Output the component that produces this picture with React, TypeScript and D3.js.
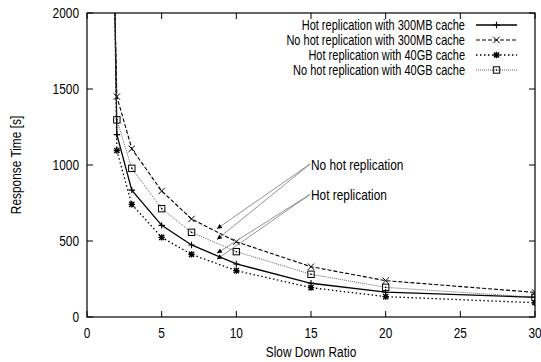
import React from "react";
import * as d3 from "d3";

const slowDown = [1, 2, 3, 5, 7, 10, 15, 20, 30];
const hot300MB = [7500, 1200, 835, 603, 474, 349, 222, 163, 130];
const noHot300MB = [5800, 1450, 1107, 829, 645, 495, 331, 239, 162];
const hot40GB = [8200, 1095, 741, 524, 412, 305, 193, 134, 94];
const noHot40GB = [6800, 1297, 978, 713, 557, 430, 281, 195, 130];
const seriesNames = [
  "Hot replication with 300MB cache",
  "No hot replication with 300MB cache",
  "Hot replication with 40GB cache",
  "No hot replication with 40GB cache",
];
const xTicks = [0, 5, 10, 15, 20, 25, 30];
const yTicks = [0, 500, 1000, 1500, 2000];
const annotations = [
  { label: "No hot replication", at: [15, 1000], targets: [[8.7, 580], [8.7, 510]] },
  { label: "Hot replication", at: [15, 800], targets: [[8.7, 420], [8.7, 380]] },
];

const W = 541, H = 362;
const font = "'Liberation Sans', Arial, sans-serif";
const fs = 14.5;
const SX = 0.82;

function T({ x, y, anchor = "start", rotate = 0, sx = SX, children }: { x: number; y: number; anchor?: string; rotate?: number; sx?: number; children: React.ReactNode }) {
  return (
    <text transform={`translate(${x},${y}) rotate(${rotate}) scale(${sx},1)`} textAnchor={anchor as any}>
      {children}
    </text>
  );
}

export default function App() {
  const x = d3.scaleLinear().domain([0, 30]).range([87, 535]);
  const y = d3.scaleLinear().domain([0, 2000]).range([317, 13]);
  const series = [hot300MB, noHot300MB, hot40GB, noHot40GB];
  const styles = [
    { dash: "none", color: "#000", width: 1.3, marker: "plus" },
    { dash: "4,2", color: "#000", width: 1.1, marker: "cross" },
    { dash: "1.5,2.5", color: "#000", width: 1.3, marker: "star" },
    { dash: "1,1", color: "#555", width: 0.9, marker: "box" },
  ];
  const line = d3.line<[number, number]>().x(d => x(d[0])).y(d => y(d[1]));

  const marker = (kind: string, cx: number, cy: number, key: string) => {
    const s = 3.2;
    if (kind === "plus")
      return <path key={key} d={`M${cx - s},${cy}H${cx + s}M${cx},${cy - s}V${cy + s}`} stroke="#000" strokeWidth={1.1} />;
    if (kind === "cross")
      return <path key={key} d={`M${cx - s},${cy - s}L${cx + s},${cy + s}M${cx - s},${cy + s}L${cx + s},${cy - s}`} stroke="#000" strokeWidth={1} />;
    if (kind === "star")
      return <path key={key} d={`M${cx - s},${cy}H${cx + s}M${cx},${cy - s}V${cy + s}M${cx - s * 0.8},${cy - s * 0.8}L${cx + s * 0.8},${cy + s * 0.8}M${cx - s * 0.8},${cy + s * 0.8}L${cx + s * 0.8},${cy - s * 0.8}`} stroke="#000" strokeWidth={1.4} />;
    return (
      <g key={key}>
        <rect x={cx - s} y={cy - s} width={2 * s} height={2 * s} fill="none" stroke="#000" strokeWidth={1} />
        <rect x={cx - 0.7} y={cy - 0.7} width={1.4} height={1.4} fill="#000" />
      </g>
    );
  };

  const legendY = (i: number) => 25 + i * 15;

  return (
    <svg width={W} height={H} style={{ position: "absolute", left: 0, top: 0 }} fontFamily={font} fontSize={fs}>
      <defs>
        <clipPath id="plot">
          <rect x={87} y={13} width={448} height={304} />
        </clipPath>
        <marker id="arrow" viewBox="0 0 10 10" refX={10} refY={5} markerWidth={8} markerHeight={5} orient="auto" markerUnits="userSpaceOnUse">
          <path d="M0,0L10,5L0,10z" fill="#000" />
        </marker>
      </defs>
      <rect width={W} height={H} fill="#fff" />
      {xTicks.map(t => (
        <g key={"xt" + t}>
          <line x1={x(t)} x2={x(t)} y1={317} y2={311} stroke="#000" />
          <line x1={x(t)} x2={x(t)} y1={13} y2={19} stroke="#000" />
          <T x={x(t)} y={338} anchor="middle">{t}</T>
        </g>
      ))}
      {yTicks.map(t => (
        <g key={"yt" + t}>
          <line x1={87} x2={93} y1={y(t)} y2={y(t)} stroke="#000" />
          <line x1={535} x2={529} y1={y(t)} y2={y(t)} stroke="#000" />
          <T x={79} y={y(t) + 5} anchor="end">{t}</T>
        </g>
      ))}
      <g clipPath="url(#plot)">
        {series.map((vals, i) => {
          const pts = slowDown.map((s, j) => [s, vals[j]] as [number, number]);
          return (
            <g key={"s" + i}>
              <path d={line(pts) || ""} fill="none" stroke={styles[i].color} strokeWidth={styles[i].width} strokeDasharray={styles[i].dash} />
              {pts.filter(p => p[1] <= 2000 && p[0] >= 2).map((p, j) => marker(styles[i].marker, x(p[0]), y(p[1]), `m${i}-${j}`))}
            </g>
          );
        })}
      </g>
      {annotations.map((a, i) => (
        <g key={"a" + i}>
          {a.targets.map((t, j) => (
            <line key={j} x1={x(a.at[0]) - 1} y1={y(a.at[1]) - 1} x2={x(t[0])} y2={y(t[1])} stroke="#777" strokeWidth={0.8} markerEnd="url(#arrow)" />
          ))}
          <T x={x(a.at[0])} y={y(a.at[1]) + 5}>{a.label}</T>
        </g>
      ))}
      {seriesNames.map((n, i) => (
        <g key={"l" + i}>
          <T x={465} y={legendY(i) + 5} anchor="end" sx={0.76}>{n}</T>
          <line x1={476} x2={517} y1={legendY(i)} y2={legendY(i)} stroke={styles[i].color} strokeWidth={styles[i].width} strokeDasharray={styles[i].dash} />
          {marker(styles[i].marker, 496.5, legendY(i), "lm" + i)}
        </g>
      ))}
      <rect x={87} y={13} width={448} height={304} fill="none" stroke="#000" strokeWidth={1.2} />
      <T x={311} y={357} anchor="middle">Slow Down Ratio</T>
      <T x={21} y={165} anchor="middle" rotate={-90}>Response Time [s]</T>
    </svg>
  );
}
